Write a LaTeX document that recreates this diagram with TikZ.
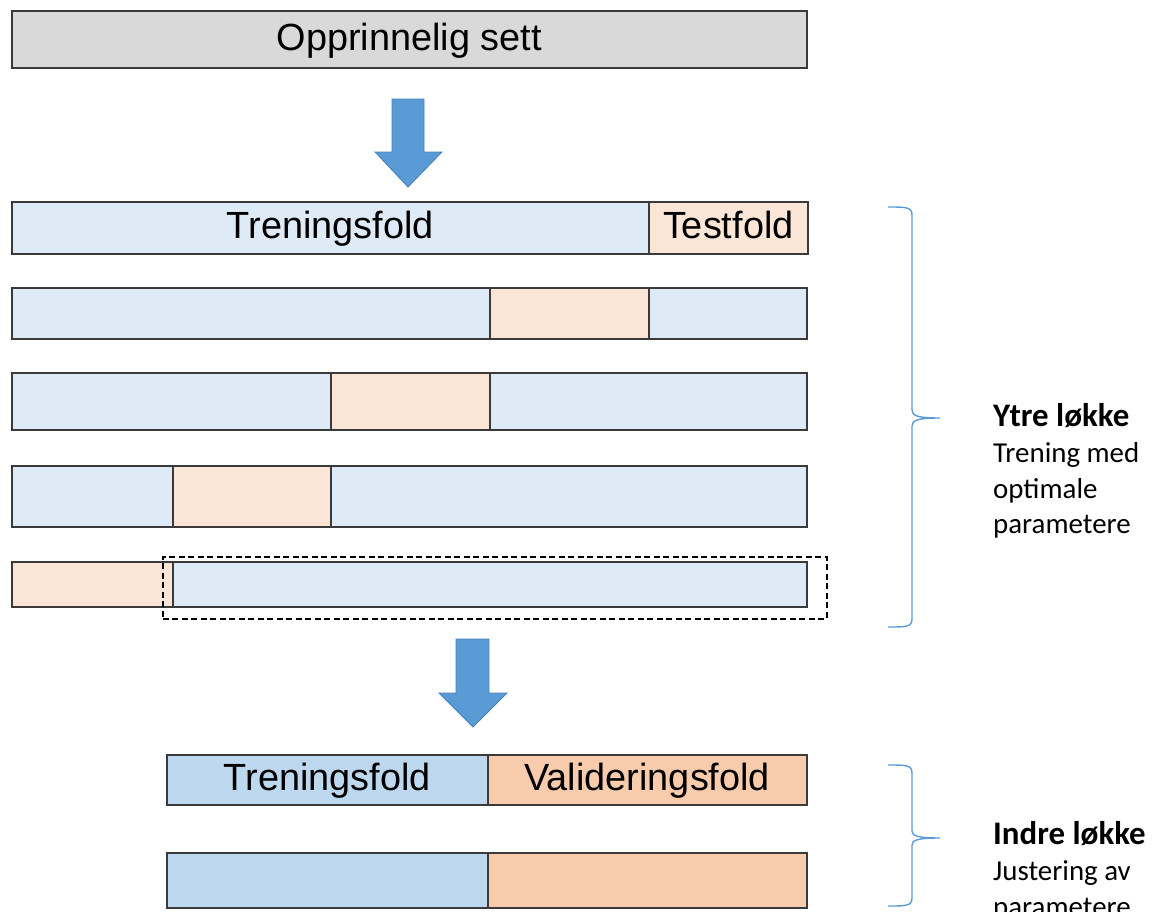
\documentclass[tikz,border=0pt]{standalone}
\usepackage{fontspec}
\setmainfont{Liberation Sans}
\newfontfamily\notefont{Carlito}
\definecolor{edgegray}{HTML}{3A3A3A}
\definecolor{topgray}{HTML}{D9D9D9}
\definecolor{trainblue}{HTML}{DEEBF7}
\definecolor{testorange}{HTML}{FBE5D6}
\definecolor{innerblue}{HTML}{BDD7EE}
\definecolor{innerorange}{HTML}{F8CBAD}
\definecolor{arrowfill}{HTML}{5B9BD5}
\definecolor{arrowedge}{HTML}{4A80B8}
\definecolor{bracecol}{HTML}{5B9BD5}
\begin{document}
\begin{tikzpicture}[x=1bp,y=-1bp,
  seg/.style={draw=edgegray, line width=1.5bp, inner sep=0pt, anchor=north west,
    text height=26bp, text depth=4bp, font=\fontsize{38}{40}\selectfont},
  trainseg/.style={seg, fill=trainblue},
  testseg/.style={seg, fill=testorange},
  innertrain/.style={seg, fill=innerblue},
  innerval/.style={seg, fill=innerorange},
  blockarrow/.style={fill=arrowfill, draw=arrowedge, line width=0.8bp, line join=miter},
  bracket/.style={draw=bracecol, line width=1.4bp},
  note/.style={inner sep=0pt, anchor=north west, align=left,
    font=\notefont\fontsize{29}{36}\selectfont}]
\useasboundingbox (0,0) rectangle (1155,912);

% original data set
\node[seg, fill=topgray, minimum width=795bp, minimum height=57bp] (orig) at (11,10) {Opprinnelig sett};

% outer folds
\node[trainseg, minimum width=637bp, minimum height=52bp] (r1a) at (11,201) {Treningsfold};
\node[testseg,  minimum width=159bp, minimum height=52bp] (r1b) at (648,201) {Testfold};

\node[trainseg, minimum width=478bp, minimum height=51bp] (r2a) at (11,287) {};
\node[testseg,  minimum width=159bp, minimum height=51bp] (r2b) at (489,287) {};
\node[trainseg, minimum width=158bp, minimum height=51bp] (r2c) at (648,287) {};

\node[trainseg, minimum width=319bp, minimum height=57bp] (r3a) at (11,372) {};
\node[testseg,  minimum width=159bp, minimum height=57bp] (r3b) at (330,372) {};
\node[trainseg, minimum width=317bp, minimum height=57bp] (r3c) at (489,372) {};

\node[trainseg, minimum width=161bp, minimum height=61bp] (r4a) at (11,465) {};
\node[testseg,  minimum width=158bp, minimum height=61bp] (r4b) at (172,465) {};
\node[trainseg, minimum width=476bp, minimum height=61bp] (r4c) at (330,465) {};

\node[testseg,  minimum width=161bp, minimum height=45bp] (r5a) at (11,561) {};
\node[trainseg, minimum width=634bp, minimum height=45bp] (r5b) at (172,561) {};

% selected training part
\node[draw=black, dash pattern=on 6bp off 3.5bp, line width=1.6bp, inner sep=0pt,
  anchor=north west, minimum width=664bp, minimum height=62bp] (sel) at (162,556) {};

% inner folds
\node[innertrain, minimum width=321bp, minimum height=50bp] (i1a) at (166,754) {Treningsfold};
\node[innerval,   minimum width=319bp, minimum height=50bp] (i1b) at (487,754) {Valideringsfold};
\node[innertrain, minimum width=321bp, minimum height=55bp] (i2a) at (166,852) {};
\node[innerval,   minimum width=319bp, minimum height=55bp] (i2b) at (487,852) {};

% block arrows
\draw[blockarrow] (392,99) -- (424,99) -- (424,152) -- (442,152) -- (408,187)
  -- (375,152) -- (392,152) -- cycle;
\draw[blockarrow] (456,639) -- (489,639) -- (489,693) -- (507,693) -- (473,727)
  -- (439,693) -- (456,693) -- cycle;

% curly brackets
\draw[bracket] (888,207) .. controls (906,207) and (912,207) .. (912,215) -- (912,410)
  .. controls (912,416) and (918,418) .. (940,418)
  .. controls (918,418) and (912,420) .. (912,426) -- (912,619)
  .. controls (912,627) and (906,627) .. (888,627);
\draw[bracket] (888,765) .. controls (906,765) and (912,765) .. (912,773) -- (912,831)
  .. controls (912,836) and (918,838) .. (940,838)
  .. controls (918,838) and (912,840) .. (912,845) -- (912,898)
  .. controls (912,906) and (906,906) .. (888,906);

% loop descriptions
\node[note] (outer) at (993,403) {{\fontsize{33}{36}\selectfont\bfseries Ytre løkke}\\Trening med\\optimale\\parametere};
\node[note] (inner) at (993,821) {{\fontsize{33}{36}\selectfont\bfseries Indre løkke}\\Justering av\\parametere};
\end{tikzpicture}
\end{document}
